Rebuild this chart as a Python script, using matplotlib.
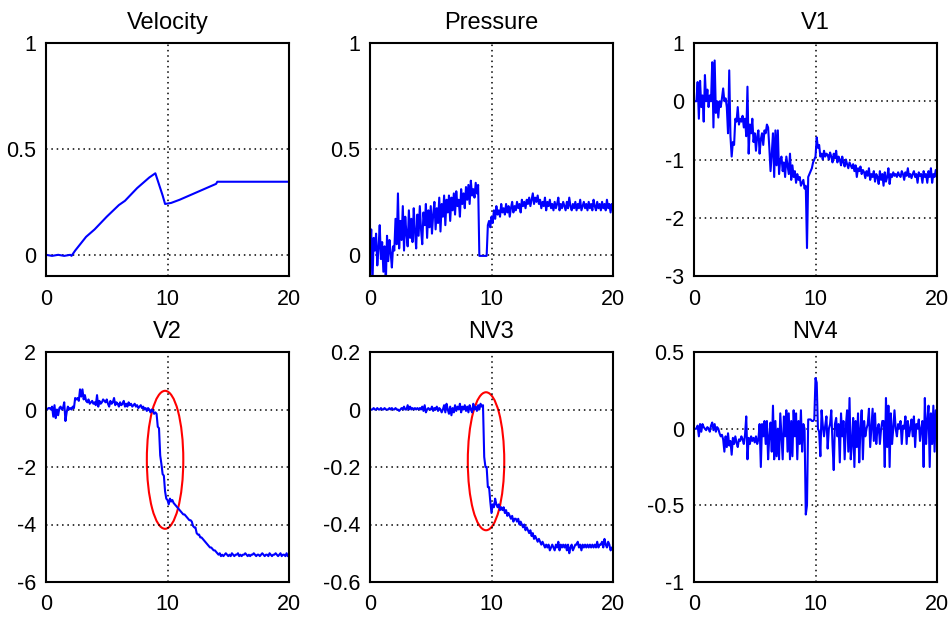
import numpy as np
import matplotlib
matplotlib.use('Agg')
import matplotlib.pyplot as plt
from matplotlib.patches import Ellipse

plt.rcParams['font.family'] = ['Liberation Sans', 'DejaVu Sans']

# tempo (s), amostras a cada 0.1 s
t = np.round(np.arange(0, 20.01, 0.1), 1)

# Velocidade: pontos de quebra
vel_t = [0, 0.5, 1, 1.5, 2, 2.1, 2.4, 3.3, 4, 5, 6, 6.5, 7.5, 8, 8.5, 9.0,
         9.2, 9.6, 9.8, 10.3, 11, 12, 13, 14, 14.1, 20]
vel = [0, -0.005, 0, -0.005, 0, -0.005, 0.02, 0.085, 0.12, 0.18, 0.235, 0.255,
       0.315, 0.34, 0.365, 0.385, 0.35, 0.28, 0.24, 0.245, 0.26, 0.285, 0.31,
       0.335, 0.345, 0.345]

pressure = [
    0.0, 0.12, -0.14, 0.08, 0.02, 0.10, -0.05, 0.03, 0.14, -0.02,
    0.06, -0.08, 0.04, -0.14, 0.09, -0.03, 0.07, 0.01, -0.06, 0.04,
    0.02, 0.17, 0.05, 0.29, 0.03, 0.16, 0.07, 0.23, 0.02, 0.18,
    0.10, 0.04, 0.21, 0.08, 0.17, 0.06, 0.22, 0.11, 0.03, 0.19,
    0.09, 0.23, 0.12, 0.05, 0.20, 0.14, 0.24, 0.08, 0.21, 0.13,
    0.23, 0.10, 0.19, 0.25, 0.12, 0.22, 0.15, 0.27, 0.11, 0.24,
    0.18, 0.28, 0.14, 0.26, 0.20, 0.28, 0.16, 0.27, 0.21, 0.29,
    0.19, 0.30, 0.23, 0.26, 0.18, 0.31, 0.24, 0.29, 0.22, 0.32,
    0.26, 0.33, 0.24, 0.35, 0.28, 0.31, 0.27, 0.34, 0.29, 0.33,
    -0.005, -0.005, -0.005, -0.005, -0.005, -0.005, -0.005, 0.14, 0.16, 0.13,
    0.18, 0.15, 0.21, 0.17, 0.23, 0.19, 0.21, 0.18, 0.24, 0.20,
    0.22, 0.19, 0.24, 0.20, 0.23, 0.18, 0.22, 0.25, 0.20, 0.23,
    0.21, 0.25, 0.22, 0.24, 0.20, 0.26, 0.23, 0.25, 0.22, 0.26,
    0.24, 0.27, 0.23, 0.26, 0.29, 0.24, 0.27, 0.25, 0.28, 0.24,
    0.26, 0.22, 0.25, 0.23, 0.27, 0.21, 0.25, 0.23, 0.26, 0.22,
    0.24, 0.21, 0.25, 0.22, 0.24, 0.27, 0.21, 0.24, 0.22, 0.25,
    0.23, 0.21, 0.25, 0.22, 0.27, 0.23, 0.21, 0.24, 0.22, 0.25,
    0.21, 0.24, 0.22, 0.26, 0.21, 0.23, 0.25, 0.22, 0.24, 0.21,
    0.25, 0.22, 0.24, 0.21, 0.26, 0.23, 0.21, 0.25, 0.22, 0.24,
    0.21, 0.25, 0.22, 0.24, 0.21, 0.26, 0.22, 0.24, 0.20, 0.24, 0.22,
]

v1 = [
    0.0, 0.0, 0.0, 0.33, -0.3, 0.35, -0.1, 0.1, -0.35, 0.45,
    0.0, 0.2, -0.1, 0.1, 0.0, 0.67, -0.45, 0.70, -0.2, 0.0,
    -0.28, 0.0, -0.1, 0.05, 0.22, 0.0, 0.05, -0.1, -0.55, 0.53,
    -0.6, -0.95, -0.7, -0.75, -0.3, -0.35, -0.1, -0.4, -0.3, -0.35,
    -0.25, -0.45, -0.3, -0.6, 0.25, -0.9, -0.4, -0.55, -0.3, -0.7,
    -0.55, -0.85, -0.6, -0.5, -0.9, -0.65, -0.55, -0.75, -0.5, -0.55,
    -0.4, -0.45, -0.8, -1.2, -0.9, -0.55, -1.3, -0.5, -1.1, -0.5,
    -1.25, -1.0, -0.95, -1.2, -1.05, -1.3, -0.95, -1.1, -1.25, -0.9,
    -1.35, -1.1, -1.3, -1.2, -1.4, -1.25, -1.35, -1.3, -1.45, -1.4,
    -1.35, -1.5, -1.45, -2.52, -1.3, -1.25, -1.2, -1.15, -1.05, -1.0,
    -0.95, -0.62, -0.8, -0.75, -0.95, -0.9, -1.0, -0.85, -0.95, -0.9,
    -0.92, -1.0, -0.88, -0.95, -1.05, -0.9, -0.98, -0.85, -1.05, -0.95,
    -1.0, -1.1, -0.95, -1.05, -1.12, -1.0, -1.08, -1.15, -1.05, -1.1,
    -1.15, -1.08, -1.2, -1.1, -1.3, -1.15, -1.2, -1.12, -1.25, -1.18,
    -1.22, -1.32, -1.2, -1.28, -1.15, -1.35, -1.25, -1.3, -1.2, -1.38,
    -1.25, -1.3, -1.42, -1.2, -1.35, -1.25, -1.45, -1.22, -1.38, -1.3,
    -1.15, -1.42, -1.25, -1.3, -1.22, -1.28, -1.25, -1.3, -1.22, -1.27,
    -1.3, -1.2, -1.25, -1.35, -1.22, -1.28, -1.15, -1.3, -1.25, -1.32,
    -1.25, -1.2, -1.3, -1.25, -1.4, -1.22, -1.28, -1.25, -1.4, -1.2,
    -1.3, -1.25, -1.4, -1.2, -1.3, -1.15, -1.4, -1.25, -1.3, -1.18, -1.2,
]

v2 = [
    0.0, 0.0, 0.05, 0.05, 0.0, 0.1, -0.25, 0.15, -0.3, 0.0,
    -0.2, 0.05, 0.1, 0.0, 0.05, 0.25, -0.4, -0.1, 0.1, 0.0,
    0.05, 0.0, 0.1, 0.05, 0.4, 0.35, 0.4, 0.3, 0.7, 0.45,
    0.7, 0.35, 0.5, 0.3, 0.25, 0.35, 0.2, 0.25, 0.3, 0.2,
    0.25, 0.15, 0.5, 0.1, 0.3, 0.2, 0.25, 0.35, 0.3, 0.25,
    0.35, 0.2, 0.1, 0.3, 0.2, 0.25, 0.4, 0.15, 0.25, 0.2,
    0.1, 0.25, 0.15, 0.2, 0.3, 0.1, 0.2, 0.1, 0.25, 0.15,
    0.2, 0.1, 0.15, 0.2, 0.1, 0.15, 0.05, 0.1, 0.15, 0.05,
    0.1, 0.0, 0.05, -0.05, 0.05, 0.0, -0.1, 0.0, -0.05, -0.15,
    -0.1, -0.15, -0.6, -0.65, -1.6, -1.9, -2.25, -2.3, -2.85, -3.1,
    -3.15, -3.3, -3.1, -3.2, -3.15, -3.25, -3.3, -3.35, -3.4, -3.45,
    -3.5, -3.55, -3.6, -3.65, -3.65, -3.7, -3.75, -3.8, -3.85, -3.85,
    -3.9, -4.05, -4.1, -4.1, -4.3, -4.35, -4.35, -4.45, -4.45, -4.5,
    -4.55, -4.6, -4.65, -4.7, -4.75, -4.8, -4.8, -4.85, -4.9, -4.9,
    -4.95, -5.0, -5.05, -5.0, -5.1, -5.05, -5.1, -5.05, -5.0, -5.05,
    -5.1, -5.05, -5.1, -5.0, -5.05, -5.1, -5.05, -5.05, -5.0, -5.1,
    -5.05, -5.1, -5.05, -5.05, -5.0, -5.05, -5.1, -5.05, -5.1, -5.05,
    -5.05, -5.0, -5.05, -5.1, -5.05, -5.05, -5.1, -5.05, -5.0, -5.05,
    -5.1, -5.05, -5.05, -5.1, -5.0, -5.05, -5.1, -5.05, -5.05, -5.0,
    -5.05, -5.1, -5.05, -5.0, -5.1, -5.05, -5.05, -5.1, -5.0, -5.1, -5.1,
]

nv3 = [
    0.0, 0.0, 0.0, 0.005, 0.0, 0.0, 0.005, 0.0, 0.0, 0.005,
    0.0, 0.0, 0.005, 0.0, 0.0, 0.0, 0.005, 0.0, 0.005, 0.0,
    0.0, 0.005, 0.0, 0.0, -0.005, 0.0, 0.005, 0.0, 0.01, 0.0,
    0.0, 0.015, 0.0, 0.01, 0.0, 0.005, 0.0, 0.005, 0.0, 0.005,
    0.0, 0.005, 0.0, 0.01, -0.005, 0.015, -0.01, 0.0, 0.005, 0.0,
    0.0, 0.01, -0.005, 0.005, 0.0, 0.01, -0.005, 0.005, 0.0, -0.01,
    0.0, 0.015, -0.01, 0.02, 0.0, -0.015, 0.01, -0.02, 0.005, -0.01,
    0.015, -0.005, 0.01, 0.0, 0.02, -0.01, 0.01, 0.0, 0.015, -0.005,
    0.01, -0.01, 0.015, 0.0, -0.01, 0.02, 0.0, 0.01, -0.005, 0.015,
    0.0, 0.02, 0.01, 0.015, -0.165, -0.2, -0.2, -0.27, -0.27, -0.32,
    -0.36, -0.33, -0.34, -0.31, -0.33, -0.34, -0.33, -0.35, -0.34, -0.35,
    -0.34, -0.36, -0.35, -0.37, -0.36, -0.37, -0.38, -0.37, -0.39, -0.38,
    -0.38, -0.39, -0.38, -0.40, -0.39, -0.40, -0.41, -0.40, -0.42, -0.41,
    -0.42, -0.43, -0.42, -0.44, -0.43, -0.45, -0.44, -0.45, -0.46, -0.45,
    -0.46, -0.47, -0.46, -0.47, -0.48, -0.47, -0.48, -0.47, -0.49, -0.48,
    -0.47, -0.48, -0.49, -0.47, -0.48, -0.46, -0.49, -0.47, -0.48, -0.47,
    -0.48, -0.47, -0.49, -0.47, -0.50, -0.48, -0.47, -0.49, -0.48, -0.47,
    -0.47, -0.46, -0.48, -0.47, -0.49, -0.47, -0.48, -0.47, -0.48, -0.47,
    -0.48, -0.47, -0.48, -0.47, -0.48, -0.47, -0.48, -0.46, -0.48, -0.47,
    -0.47, -0.46, -0.48, -0.45, -0.47, -0.48, -0.46, -0.47, -0.49, -0.48, -0.49,
]

nv4 = [
    0.0, 0.0, 0.0, 0.02, -0.05, 0.03, -0.02, 0.03, 0.01, 0.0,
    -0.01, 0.01, 0.0, -0.02, 0.02, 0.04, -0.01, 0.03, -0.02, 0.01,
    0.0, -0.03, -0.05, -0.04, -0.07, -0.15, -0.05, -0.12, -0.03, -0.11,
    -0.08, -0.17, -0.06, -0.1, -0.05, -0.09, -0.12, -0.07, -0.08, -0.05,
    -0.07, -0.1, -0.04, 0.08, -0.2, -0.06, -0.1, -0.05, -0.08, -0.06,
    -0.09, -0.05, -0.1, -0.07, 0.03, -0.25, 0.03, -0.05, 0.05, -0.1,
    0.05, -0.2, -0.05, 0.04, -0.15, 0.15, -0.2, 0.05, -0.18, 0.0,
    -0.2, 0.1, -0.05, -0.2, 0.08, -0.05, 0.12, -0.15, 0.1, -0.2,
    0.05, -0.18, 0.12, -0.05, 0.1, -0.2, 0.05, -0.1, 0.12, -0.15,
    0.03, 0.0, -0.56, -0.5, 0.06, 0.06, 0.06, 0.05, 0.05, 0.06,
    0.33, 0.3, 0.0, -0.02, -0.18, 0.12, 0.02, -0.05, 0.02, 0.08,
    -0.13, 0.0, 0.03, 0.12, -0.1, -0.27, 0.03, 0.07, -0.05, 0.03,
    -0.22, 0.1, -0.05, 0.05, -0.2, 0.02, 0.12, -0.15, 0.2, -0.2,
    -0.1, 0.07, -0.25, 0.05, -0.12, 0.1, -0.22, 0.0, 0.12, -0.2,
    0.05, -0.05, 0.0, 0.03, 0.13, -0.12, 0.0, 0.13, -0.08, 0.1,
    -0.1, 0.0, 0.03, -0.1, 0.0, 0.05, 0.05, -0.25, 0.2, -0.12,
    0.15, -0.25, 0.1, -0.1, 0.0, 0.12, 0.0, -0.05, 0.03, 0.0,
    0.05, -0.1, 0.02, 0.0, 0.08, -0.1, 0.05, -0.05, 0.0, 0.06,
    -0.05, 0.08, -0.12, 0.03, 0.0, 0.06, -0.08, 0.0, 0.05, -0.25,
    0.2, -0.1, 0.05, 0.15, -0.25, 0.1, -0.1, 0.15, -0.15, 0.12, 0.12,
]

titles = ['Velocity', 'Pressure', 'V1', 'V2', 'NV3', 'NV4']
ylims = [(-0.1, 1), (-0.1, 1), (-3, 1), (-6, 2), (-0.6, 0.2), (-1, 0.5)]
yticks = [[0, 0.5, 1], [0, 0.5, 1], [-3, -2, -1, 0, 1],
          [-6, -4, -2, 0, 2], [-0.6, -0.4, -0.2, 0, 0.2], [-1, -0.5, 0, 0.5]]
yticklabels = [['0', '0.5', '1'], ['0', '0.5', '1'], ['-3', '-2', '-1', '0', '1'],
               ['-6', '-4', '-2', '0', '2'], ['-0.6', '-0.4', '-0.2', '0', '0.2'],
               ['-1', '-0.5', '0', '0.5']]
series = [(vel_t, vel), (t, pressure), (t, v1), (t, v2), (t, nv3), (t, nv4)]

# elipses vermelhas (centro x, centro y, largura, altura)
ellipses = {3: (9.8, -1.75, 3.0, 4.8), 4: (9.55, -0.18, 3.0, 0.48)}

W, H = 953, 619
fig = plt.figure(figsize=(W / 100, H / 100), dpi=100)
lefts = [46, 370, 694]
tops = [43, 352]
bottoms = [276, 582]

for i in range(6):
    r, c = divmod(i, 3)
    l = lefts[c]
    ax = fig.add_axes([l / W, 1 - bottoms[r] / H, 243 / W, (bottoms[r] - tops[r]) / H])
    x, y = series[i]
    ax.plot(x, y, color='#0000ff', linewidth=1.5)
    ax.set_xlim(0, 20)
    ax.set_ylim(*ylims[i])
    ax.set_xticks([0, 10, 20])
    ax.set_xticklabels(['0', '10', '20'])
    ax.set_yticks(yticks[i])
    ax.set_yticklabels(yticklabels[i])
    ax.grid(True, color='black', linestyle=(0, (1, 2.5)), linewidth=1.1)
    ax.tick_params(length=0, labelsize=15.5)
    ax.tick_params(axis='x', pad=9)
    ax.tick_params(axis='y', pad=7)
    for s in ax.spines.values():
        s.set_linewidth(1.5)
    ax.set_title(titles[i], fontsize=17, pad=10)
    if i in ellipses:
        cx, cy, w, h = ellipses[i]
        ax.add_patch(Ellipse((cx, cy), w, h, fill=False, edgecolor='red', linewidth=1.5))

fig.savefig('out.png', dpi=100)
